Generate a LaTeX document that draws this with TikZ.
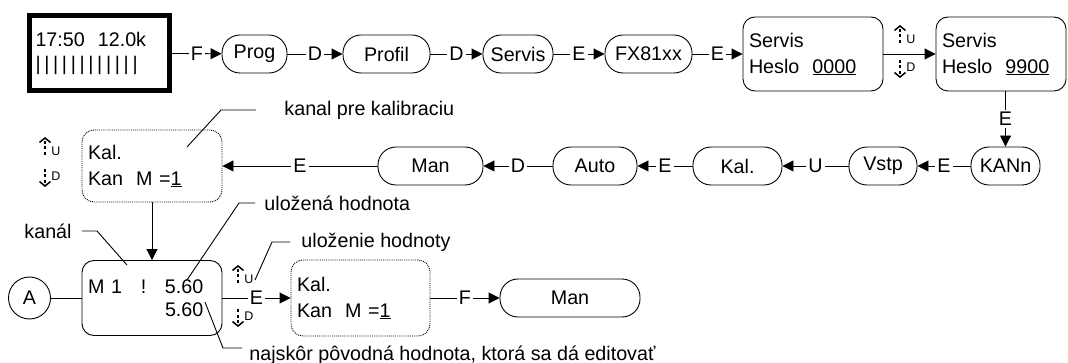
\documentclass[tikz,border=0pt]{standalone}
\usepackage{fontspec}
\setmainfont{Liberation Sans}
\usetikzlibrary{arrows.meta}

\tikzset{
	pill/.style = {draw, rounded corners = 18pt, minimum height = 38pt, inner sep = 0pt},
	panel/.style = {draw, rounded corners = 12pt, align = left, inner xsep = 6pt, inner ysep = 0pt},
	dpanel/.style = {panel, densely dotted},
	arr/.style = {-{Triangle[length = 11pt, width = 11pt]}},
	lbl/.style = {fill = white, inner sep = 2pt},
	note/.style = {anchor = west, inner sep = 0pt},
	udstem/.style = {line width = 1.5pt, dash pattern = on 3pt off 2.5pt, -{Straight Barb[length = 4.5pt, width = 11pt]}},
	udtxt/.style = {font = \fontsize{12.5}{14}\selectfont, inner sep = 0pt}
}

\newcommand{\udmark}[4]{%
	\draw[udstem] (#1,#2+18) -- (#1,#2);
	\draw[udstem] (#1,#3-18) -- (#1,#3);
	\node[udtxt] (#4u) at (#1+11,#2+14) {U};
	\node[udtxt] (#4d) at (#1+11,#3-11) {D};
}

\begin{document}
\begin{tikzpicture}[x = 1pt, y = -1pt, line width = 0.9pt, font = \fontsize{19.7}{26}\selectfont]
	\useasboundingbox (0,0) rectangle (1068,363);

	\node[draw, line width = 5pt, minimum width = 140pt, minimum height = 75pt, text width = 128pt, align = left, inner xsep = 6pt, font = \fontsize{19.7}{24}\selectfont] (lcd) at (99.5,53) {17:50\ \ 12.0k\\\foreach \i in {1,...,12}{|\kern3.7pt}};
	\node[pill, minimum width = 65pt] (prog) at (254.5,54) {Prog};
	\node[pill, minimum width = 87pt] (profil) at (386.5,54) {Profil};
	\node[pill, minimum width = 70pt] (servis) at (518,54) {Servis};
	\node[pill, minimum width = 87pt] (fx) at (648.5,54) {FX81xx};
	\node[panel, minimum height = 74pt, text width = 128pt] (pw0) at (813,54) {Servis\\Heslo\ \ \underline{0000}};
	\node[panel, minimum height = 74pt, text width = 118pt] (pw9) at (1001,54) {Servis\\Heslo\ \ \underline{9900}};

	\node[pill, minimum width = 69pt] (kann) at (1005.5,166) {KANn};
	\node[pill, minimum width = 68pt] (vstp) at (883,166) {Vstp};
	\node[pill, minimum width = 89pt] (kal) at (737.5,166) {Kal.};
	\node[pill, minimum width = 84pt] (auto) at (595,166) {Auto};
	\node[pill, minimum width = 105pt] (man) at (430.5,166) {Man};
	\node[dpanel, minimum height = 72pt, text width = 128pt] (kansel) at (152,166) {Kal.\\Kan\ \ M =\underline{1}};

	\node[draw, circle, minimum size = 42pt, inner sep = 0pt] (a) at (29.5,298) {A};
	\node[panel, minimum height = 75pt, text width = 128pt, font = \fontsize{19.7}{23}\selectfont] (meas) at (152,298) {M\hspace{6.6pt}1\hspace{19pt}!\hspace{18.5pt}5.60\\\hspace*{77pt}5.60};
	\node[dpanel, minimum height = 76pt, text width = 127pt] (kanset) at (360.5,298) {Kal.\\Kan\ \ M =\underline{1}};
	\node[pill, minimum width = 140pt] (man2) at (570,298) {Man};

	\draw[arr] (lcd) -- node[lbl] (l1) {F} (prog);
	\draw[arr] (prog) -- node[lbl] (l2) {D} (profil);
	\draw[arr] (profil) -- node[lbl] (l3) {D} (servis);
	\draw[arr] (servis) -- node[lbl] (l4) {E} (fx);
	\draw[arr] (fx) -- node[lbl] (l5) {E} (pw0);
	\draw[arr] (pw0) -- (pw9);
	\draw[arr] (pw9.south -| kann) -- node[lbl] (l6) {E} (kann);
	\draw[arr] (kann) -- node[lbl] (l7) {E} (vstp);
	\draw[arr] (vstp) -- node[lbl] (l8) {U} (kal);
	\draw[arr] (kal) -- node[lbl] (l9) {E} (auto);
	\draw[arr] (auto) -- node[lbl] (l10) {D} (man);
	\draw[arr] (man) -- node[lbl] (l11) {E} (kansel);
	\draw[arr] (kansel) -- (meas);
	\draw (a) -- (meas);
	\draw[arr] (meas) -- node[lbl] (l12) {E} (kanset);
	\draw[arr] (kanset) -- node[lbl] (l13) {F} (man2);

	\udmark{900}{25}{78}{pw}
	\udmark{45}{137}{187}{ks}
	\udmark{238}{265}{327}{ms}

	\coordinate (kpkpt) at (187,147);
	\coordinate (knlpt) at (127,265);
	\coordinate (ulhpt) at (187,280);
	\coordinate (ulzpt) at (255,280);
	\coordinate (najpt) at (205,302);
	\node[note] (kpk) at (284,110) {kanal pre kalibraciu};
	\node[note] (knl) at (24,231) {kanál};
	\node[note] (ulh) at (264,203) {uložená hodnota};
	\node[note] (ulz) at (301,242) {uloženie hodnoty};
	\node[note] (naj) at (249,355) {najskôr pôvodná hodnota, ktorá sa dá editovať};
	\draw ([xshift = -28pt]kpk.west) -- ++(-35,0) -- (kpkpt);
	\draw ([xshift = 10pt]knl.east) -- ++(15,0) -- (knlpt);
	\draw ([xshift = -9pt]ulh.west) -- ++(-16,0) -- (ulhpt);
	\draw ([xshift = -11pt]ulz.west) -- ++(-18,0) -- (ulzpt);
	\draw ([xshift = -7pt, yshift = 7pt]naj.west) -- ++(-19,0) -- (najpt);
\end{tikzpicture}
\end{document}
